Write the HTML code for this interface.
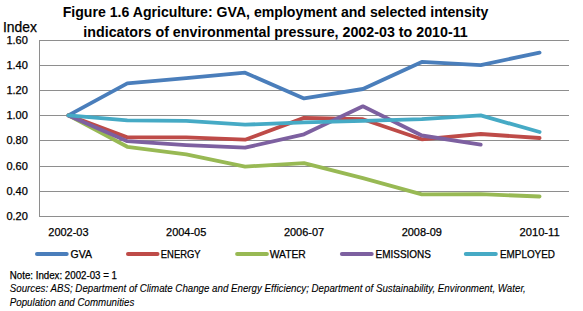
<!DOCTYPE html>
<html><head><meta charset="utf-8"><style>
html,body{margin:0;padding:0;background:#fff;width:583px;height:311px;overflow:hidden}
svg{display:block}
text{font-family:"Liberation Sans",sans-serif;fill:#000;stroke:#000;stroke-width:0.25px}
</style></head><body>
<svg width="583" height="311" viewBox="0 0 583 311">

<line x1="39" y1="40.5" x2="569" y2="40.5" stroke="#8E8E8E" stroke-width="1"/>
<line x1="39" y1="65.5" x2="569" y2="65.5" stroke="#8E8E8E" stroke-width="1"/>
<line x1="39" y1="90.5" x2="569" y2="90.5" stroke="#8E8E8E" stroke-width="1"/>
<line x1="39" y1="115.5" x2="569" y2="115.5" stroke="#8E8E8E" stroke-width="1"/>
<line x1="39" y1="140.5" x2="569" y2="140.5" stroke="#8E8E8E" stroke-width="1"/>
<line x1="39" y1="166.5" x2="569" y2="166.5" stroke="#8E8E8E" stroke-width="1"/>
<line x1="39" y1="191.5" x2="569" y2="191.5" stroke="#8E8E8E" stroke-width="1"/>
<line x1="39" y1="216.5" x2="569" y2="216.5" stroke="#8E8E8E" stroke-width="1"/>
<line x1="39.5" y1="40" x2="39.5" y2="217" stroke="#8E8E8E" stroke-width="1"/>
<polyline points="68.4,115.4 127.3,83.3 186.2,78.1 245.1,72.7 304.0,98.4 362.9,89.0 421.8,61.9 480.7,65.1 539.6,52.6" fill="none" stroke="#4A7EBB" stroke-width="3.8" stroke-linejoin="round" stroke-linecap="round"/>
<polyline points="68.4,115.4 127.3,137.4 186.2,137.4 245.1,139.7 304.0,117.9 362.9,119.2 421.8,139.3 480.7,134.0 539.6,138.0" fill="none" stroke="#BE4B48" stroke-width="3.8" stroke-linejoin="round" stroke-linecap="round"/>
<polyline points="68.4,115.4 127.3,146.8 186.2,154.4 245.1,166.6 304.0,163.2 362.9,178.2 421.8,194.3 480.7,194.2 539.6,196.5" fill="none" stroke="#98B954" stroke-width="3.8" stroke-linejoin="round" stroke-linecap="round"/>
<polyline points="68.4,115.4 127.3,141.2 186.2,145.1 245.1,147.7 304.0,134.3 362.9,106.3 421.8,135.5 480.7,144.7" fill="none" stroke="#7D60A0" stroke-width="3.8" stroke-linejoin="round" stroke-linecap="round"/>
<polyline points="68.4,115.4 127.3,120.4 186.2,120.9 245.1,124.7 304.0,122.4 362.9,120.8 421.8,119.2 480.7,115.4 539.6,132.0" fill="none" stroke="#46AAC5" stroke-width="3.8" stroke-linejoin="round" stroke-linecap="round"/>
<text x="62.7" y="17.2" font-size="14.2" font-weight="bold" style="stroke-width:0" textLength="425.6" lengthAdjust="spacingAndGlyphs">Figure 1.6 Agriculture: GVA, employment and selected intensity</text>
<text x="83.3" y="36.5" font-size="14.2" font-weight="bold" style="stroke-width:0" textLength="384.5" lengthAdjust="spacingAndGlyphs">indicators of environmental pressure, 2002-03 to 2010-11</text>
<text x="2.9" y="32" font-size="13.8" textLength="34" lengthAdjust="spacingAndGlyphs">Index</text>
<text x="6.4" y="44.3" font-size="10" textLength="21.4" lengthAdjust="spacingAndGlyphs">1.60</text>
<text x="6.4" y="69.3" font-size="10" textLength="21.4" lengthAdjust="spacingAndGlyphs">1.40</text>
<text x="6.4" y="94.3" font-size="10" textLength="21.4" lengthAdjust="spacingAndGlyphs">1.20</text>
<text x="6.4" y="119.3" font-size="10" textLength="21.4" lengthAdjust="spacingAndGlyphs">1.00</text>
<text x="6.4" y="144.3" font-size="10" textLength="21.4" lengthAdjust="spacingAndGlyphs">0.80</text>
<text x="6.4" y="170.3" font-size="10" textLength="21.4" lengthAdjust="spacingAndGlyphs">0.60</text>
<text x="6.4" y="195.3" font-size="10" textLength="21.4" lengthAdjust="spacingAndGlyphs">0.40</text>
<text x="6.4" y="220.3" font-size="10" textLength="21.4" lengthAdjust="spacingAndGlyphs">0.20</text>
<text x="48.3" y="235.8" font-size="10.8" textLength="40.2" lengthAdjust="spacingAndGlyphs">2002-03</text>
<text x="166.1" y="235.8" font-size="10.8" textLength="40.2" lengthAdjust="spacingAndGlyphs">2004-05</text>
<text x="283.9" y="235.8" font-size="10.8" textLength="40.2" lengthAdjust="spacingAndGlyphs">2006-07</text>
<text x="401.7" y="235.8" font-size="10.8" textLength="40.2" lengthAdjust="spacingAndGlyphs">2008-09</text>
<text x="519.5" y="235.8" font-size="10.8" textLength="40.2" lengthAdjust="spacingAndGlyphs">2010-11</text>
<line x1="37" y1="254" x2="66.7" y2="254" stroke="#4A7EBB" stroke-width="4" stroke-linecap="round"/>
<text x="70.5" y="257.7" font-size="10.2" textLength="21.4" lengthAdjust="spacingAndGlyphs">GVA</text>
<line x1="128" y1="254" x2="157.5" y2="254" stroke="#BE4B48" stroke-width="4" stroke-linecap="round"/>
<text x="160.8" y="257.7" font-size="10.2" textLength="39.8" lengthAdjust="spacingAndGlyphs">ENERGY</text>
<line x1="237.1" y1="254" x2="266.9" y2="254" stroke="#98B954" stroke-width="4" stroke-linecap="round"/>
<text x="269.7" y="257.7" font-size="10.2" textLength="36.1" lengthAdjust="spacingAndGlyphs">WATER</text>
<line x1="341.9" y1="254" x2="371.7" y2="254" stroke="#7D60A0" stroke-width="4" stroke-linecap="round"/>
<text x="375.5" y="257.7" font-size="10.2" textLength="55.5" lengthAdjust="spacingAndGlyphs">EMISSIONS</text>
<line x1="465.8" y1="254" x2="495.8" y2="254" stroke="#46AAC5" stroke-width="4" stroke-linecap="round"/>
<text x="500" y="257.7" font-size="10.2" textLength="54.9" lengthAdjust="spacingAndGlyphs">EMPLOYED</text>
<text x="9.8" y="279.1" font-size="10.3" textLength="107.2" lengthAdjust="spacingAndGlyphs">Note: Index: 2002-03 = 1</text>
<text x="9.8" y="292" font-size="10.3" font-style="italic" style="stroke-width:0.1px" textLength="516" lengthAdjust="spacingAndGlyphs">Sources: ABS; Department of Climate Change and Energy Efficiency; Department of Sustainability, Environment, Water,</text>
<text x="9.8" y="305.6" font-size="10.3" font-style="italic" style="stroke-width:0.1px" textLength="124.5" lengthAdjust="spacingAndGlyphs">Population and Communities</text>
</svg></body></html>
